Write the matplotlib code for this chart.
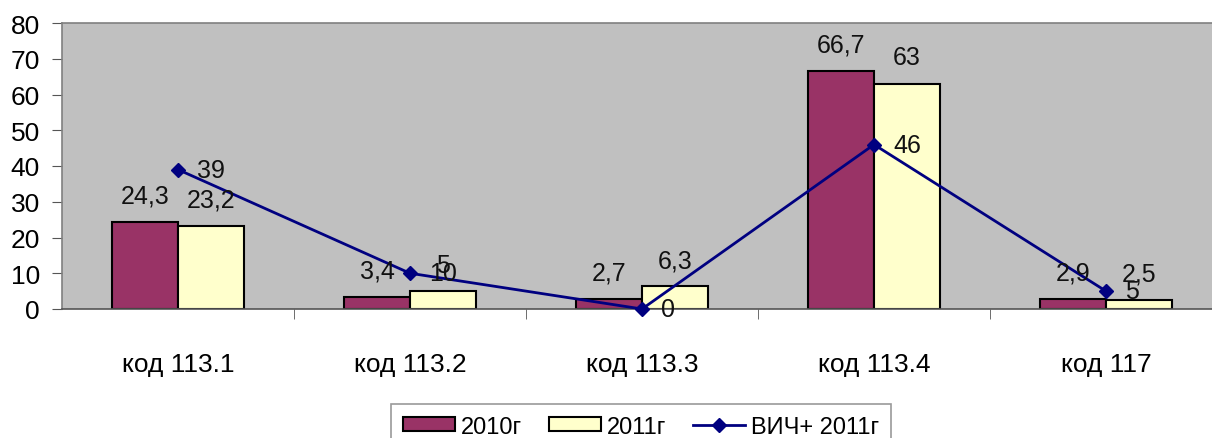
import numpy as np
import matplotlib
matplotlib.use("Agg")
import matplotlib.pyplot as plt

plt.rcParams['font.family'] = ['Liberation Sans', 'DejaVu Sans']

# Data
categories = ["код 113.1", "код 113.2", "код 113.3", "код 113.4", "код 117"]
vals_2010 = [24.3, 3.4, 2.7, 66.7, 2.9]
vals_2011 = [23.2, 5, 6.3, 63, 2.5]
hiv_2011 = [39, 10, 0, 46, 5]

def fmt(v):
    return ("%g" % v).replace(".", ",")

fig = plt.figure(figsize=(12.12, 4.39), dpi=100)
ax = fig.add_axes([62/1212, 1-310/439, 1160/1212, 286/439])
ax.set_facecolor("#C0C0C0")

x = np.arange(len(categories))
w = 0.285
b1 = ax.bar(x - w/2, vals_2010, w, color="#993366", edgecolor="black", lw=1.5, label="2010г", zorder=2)
b2 = ax.bar(x + w/2, vals_2011, w, color="#FFFFCC", edgecolor="black", lw=1.5, label="2011г", zorder=2)
ln, = ax.plot(x, hiv_2011, color="#000080", lw=2, marker="D", ms=7, label="ВИЧ+ 2011г",
              zorder=3, clip_on=False)

# value labels
for xs, vals in ((x - w/2, vals_2010), (x + w/2, vals_2011)):
    for xi, v in zip(xs, vals):
        ax.annotate(fmt(v), (xi, v), xytext=(0, 19), textcoords="offset points",
                    ha="center", va="center", fontsize=18, color="#111111", zorder=4)
for xi, v in zip(x, hiv_2011):
    ax.annotate(fmt(v), (xi, v), xytext=(14, 0), textcoords="offset points",
                ha="left", va="center", fontsize=18, color="#111111", zorder=4)

ax.set_xlim(-0.5, len(categories) - 0.5)
ax.set_ylim(0, 80)
ax.set_yticks(range(0, 81, 10))
ax.set_xticks(x)
ax.set_xticklabels(categories)
ax.set_xticks(np.arange(0.5, len(categories) - 0.5, 1), minor=True)
ax.tick_params(axis="x", which="major", length=0, pad=31, labelsize=19)
ax.tick_params(axis="x", which="minor", length=7, direction="out", color="#555555")
ax.tick_params(axis="y", length=7, direction="out", pad=9, labelsize=19, color="#555555")

for s in ax.spines.values():
    s.set_color("#808080")
    s.set_linewidth(1.2)
ax.spines["bottom"].set_color("#555555")

leg = fig.legend(handles=[b1, b2, ln], loc="upper center",
                 bbox_to_anchor=(641/1212, 1-393/439), ncol=3,
                 fontsize=17, frameon=True, fancybox=False, edgecolor="#808080",
                 handlelength=2.2, handleheight=0.55, handletextpad=0.25, columnspacing=1.15,
                 borderpad=0.5)
leg.get_frame().set_linewidth(1.2)

fig.savefig("out.png", dpi=100)
